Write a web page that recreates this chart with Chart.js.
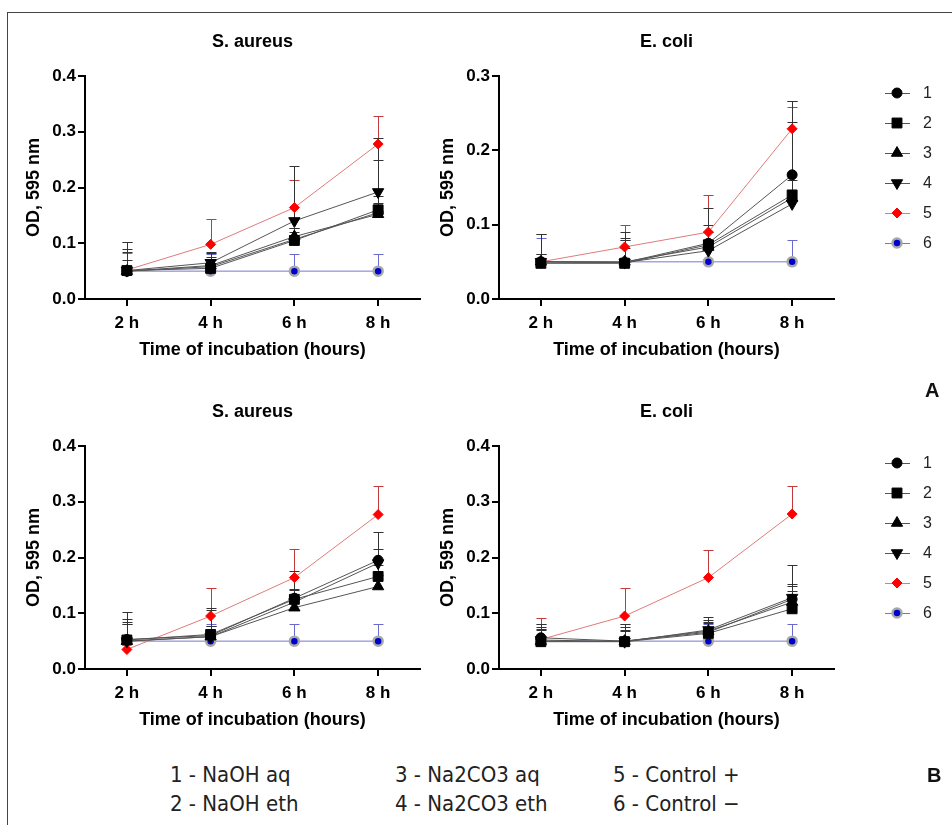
<!DOCTYPE html>
<html><head><meta charset="utf-8">
<script src="https://cdn.jsdelivr.net/npm/chart.js@4/dist/chart.umd.min.js"></script>
<style>
html,body{margin:0;padding:0;background:#fff;}
body{width:952px;height:825px;position:relative;overflow:hidden;font-family:Arial,'Liberation Sans',sans-serif;}
.frameT{position:absolute;left:7px;top:12px;width:945px;height:0;border-top:1px solid #444;}
.frameL{position:absolute;left:7px;top:12px;width:0;height:813px;border-left:1px solid #444;}
.panel{position:absolute;}
.tag{position:absolute;font:bold 20px Arial,'Liberation Sans',sans-serif;color:#111;}
.legend{position:absolute;left:880px;}
.legend .item{height:30px;display:flex;align-items:center;}
.legend canvas{width:34px;height:20px;display:block;}
.legend span{font:16px Arial,'Liberation Sans',sans-serif;margin-left:9px;color:#222;}
.note{position:absolute;font:22px 'Liberation Sans Narrow','DejaVu Sans Condensed',sans-serif;color:#222;line-height:24px;white-space:nowrap;}
</style>
</head><body>
<div class="frameT"></div><div class="frameL"></div>
<canvas id="c1" class="panel" style="left:8px;top:14px" width="420" height="350"></canvas>
<canvas id="c2" class="panel" style="left:422px;top:14px" width="420" height="350"></canvas>
<canvas id="c3" class="panel" style="left:8px;top:384px" width="420" height="350"></canvas>
<canvas id="c4" class="panel" style="left:422px;top:384px" width="420" height="350"></canvas>
<div class="legend" id="legA" style="top:78px"></div>
<div class="legend" id="legB" style="top:448px"></div>
<div class="tag" style="left:925px;top:379px">A</div>
<div class="tag" style="left:927px;top:764px">B</div>
<div class="note" style="left:170px;top:763px">1 - NaOH aq</div>
<div class="note" style="left:170px;top:792px">2 - NaOH eth</div>
<div class="note" style="left:395px;top:763px">3 - Na2CO3 aq</div>
<div class="note" style="left:395px;top:792px">4 - Na2CO3 eth</div>
<div class="note" style="left:613px;top:763px">5 - Control +</div>
<div class="note" style="left:613px;top:792px">6 - Control &minus;</div>
<script>
// ---------- categories & labels ----------
const hours = ['2 h', '4 h', '6 h', '8 h'];
const seriesNames = ['1', '2', '3', '4', '5', '6'];
const panelTitles = ['S. aureus', 'E. coli', 'S. aureus', 'E. coli'];
const yMaxA_sa = 0.4, yMaxA_ec = 0.3, yMaxB_sa = 0.4, yMaxB_ec = 0.4;

// ---------- Panel A, S. aureus: means ----------
const saA_1 = [0.050, 0.058, 0.107, 0.155];
const saA_2 = [0.051, 0.055, 0.105, 0.160];
const saA_3 = [0.050, 0.060, 0.112, 0.152];
const saA_4 = [0.051, 0.065, 0.140, 0.192];
const saA_5 = [0.052, 0.098, 0.164, 0.278];
const saA_6 = [0.050, 0.050, 0.050, 0.050];
// errors (upper SD)
const saA_1e = [0.040, 0.024, 0.020, 0.030];
const saA_2e = [0.019, 0.015, 0.015, 0.090];
const saA_3e = [0.035, 0.015, 0.015, 0.020];
const saA_4e = [0.051, 0.020, 0.099, 0.097];
const saA_5e = [0.050, 0.045, 0.050, 0.050];
const saA_6e = [0.032, 0.030, 0.030, 0.030];

// ---------- Panel A, E. coli ----------
const ecA_1 = [0.050, 0.049, 0.075, 0.167];
const ecA_2 = [0.048, 0.048, 0.073, 0.140];
const ecA_3 = [0.050, 0.050, 0.070, 0.136];
const ecA_4 = [0.050, 0.049, 0.065, 0.128];
const ecA_5 = [0.050, 0.070, 0.090, 0.229];
const ecA_6 = [0.050, 0.050, 0.050, 0.050];
const ecA_1e = [0.038, 0.041, 0.048, 0.100];
const ecA_2e = [0.040, 0.034, 0.027, 0.020];
const ecA_3e = [0.010, 0.030, 0.020, 0.130];
const ecA_4e = [0.010, 0.020, 0.015, 0.110];
const ecA_5e = [0.005, 0.030, 0.050, 0.029];
const ecA_6e = [0.032, 0.030, 0.030, 0.030];

// ---------- Panel B, S. aureus ----------
const saB_1 = [0.053, 0.060, 0.127, 0.195];
const saB_2 = [0.052, 0.062, 0.125, 0.166];
const saB_3 = [0.050, 0.058, 0.110, 0.148];
const saB_4 = [0.050, 0.058, 0.120, 0.190];
const saB_5 = [0.035, 0.095, 0.164, 0.277];
const saB_6 = [0.050, 0.050, 0.050, 0.050];
const saB_1e = [0.049, 0.050, 0.048, 0.051];
const saB_2e = [0.038, 0.043, 0.018, 0.020];
const saB_3e = [0.035, 0.020, 0.020, 0.020];
const saB_4e = [0.030, 0.020, 0.022, 0.025];
const saB_5e = [0.010, 0.050, 0.051, 0.051];
const saB_6e = [0.030, 0.030, 0.030, 0.030];

// ---------- Panel B, E. coli ----------
const ecB_1 = [0.056, 0.050, 0.066, 0.125];
const ecB_2 = [0.049, 0.049, 0.064, 0.108];
const ecB_3 = [0.050, 0.050, 0.068, 0.120];
const ecB_4 = [0.052, 0.049, 0.070, 0.128];
const ecB_5 = [0.053, 0.095, 0.164, 0.278];
const ecB_6 = [0.050, 0.050, 0.050, 0.050];
const ecB_1e = [0.024, 0.030, 0.027, 0.062];
const ecB_2e = [0.026, 0.021, 0.020, 0.032];
const ecB_3e = [0.020, 0.025, 0.015, 0.028];
const ecB_4e = [0.020, 0.020, 0.018, 0.025];
const ecB_5e = [0.039, 0.050, 0.050, 0.050];
const ecB_6e = [0.030, 0.030, 0.030, 0.030];

// ---------- styles ----------
const styles = [
  {pointStyle:'circle', radius:5, rotation:0, fill:'#000', border:'#000', bw:1, line:'#555', err:'#333'},
  {pointStyle:'rect', radius:7, rotation:0, fill:'#000', border:'#000', bw:1, line:'#555', err:'#333'},
  {pointStyle:'triangle', radius:6.5, rotation:0, fill:'#000', border:'#000', bw:1, line:'#555', err:'#333'},
  {pointStyle:'triangle', radius:6.5, rotation:180, fill:'#000', border:'#000', bw:1, line:'#555', err:'#333'},
  {pointStyle:'rectRot', radius:5, rotation:0, fill:'#ff0000', border:'#ff0000', bw:1, line:'#e07a7a', err:'#c23a3a'},
  {pointStyle:'circle', radius:4.5, rotation:0, fill:'#0000cc', border:'#a8a8a8', bw:2.5, line:'#7676d4', err:'#6b6bcf'}
];

const errorBars = {
  id: 'errorBars',
  beforeDatasetsDraw(chart) {
    const {ctx} = chart, x = chart.scales.x, y = chart.scales.y;
    for (let i = chart.data.datasets.length - 1; i >= 0; i--) {
      const ds = chart.data.datasets[i];
      if (!ds.errors) continue;
      ctx.save();
      ctx.strokeStyle = ds.errorColor;
      ctx.lineWidth = 1;
      ds.data.forEach((v, j) => {
        const px = Math.round(x.getPixelForValue(j)) + 0.5;
        const y0 = y.getPixelForValue(v);
        const y1 = Math.round(y.getPixelForValue(v + ds.errors[j])) + 0.5;
        ctx.beginPath();
        ctx.moveTo(px, y0); ctx.lineTo(px, y1);
        ctx.moveTo(px - 5, y1); ctx.lineTo(px + 5, y1);
        ctx.stroke();
      });
      ctx.restore();
    }
  }
};

const F = 'Arial, "Liberation Sans", sans-serif';

function makePanel(id, title, yMax, means, errs) {
  new Chart(document.getElementById(id), {
    type: 'line',
    data: {
      labels: hours,
      datasets: means.map((d, i) => ({
        label: seriesNames[i], data: d, errors: errs[i], errorColor: styles[i].err,
        borderColor: styles[i].line, borderWidth: 1, backgroundColor: styles[i].fill,
        pointStyle: styles[i].pointStyle, pointRadius: styles[i].radius, pointRotation: styles[i].rotation,
        pointBackgroundColor: styles[i].fill, pointBorderColor: styles[i].border, pointBorderWidth: styles[i].bw,
        tension: 0, fill: false
      }))
    },
    options: {
      responsive: false, animation: false, devicePixelRatio: 1,
      layout: {padding: {left: 0, right: 7, top: 0, bottom: 0}},
      plugins: {
        legend: {display: false}, tooltip: {enabled: false},
        title: {display: true, text: title, fullSize: false, color: '#000',
          font: {family: F, size: 18, weight: 'bold'}, padding: {top: 17.2, bottom: 23.2}}
      },
      scales: {
        x: {
          type: 'category', offset: true,
          grid: {display: true, drawOnChartArea: false, drawTicks: true, tickLength: 7, color: '#000', lineWidth: 2},
          border: {color: '#000', width: 2},
          ticks: {font: {family: F, size: 17, weight: 'bold'}, color: '#000', padding: 7, maxRotation: 0},
          title: {display: true, text: 'Time of incubation (hours)', color: '#000',
            font: {family: F, size: 18, weight: 'bold'}, padding: {top: 0, bottom: 3}},
          afterFit(s) { s.height = 65; }
        },
        y: {
          min: 0, max: yMax,
          grid: {display: true, drawOnChartArea: false, drawTicks: true, tickLength: 7, color: '#000', lineWidth: 2},
          border: {color: '#000', width: 2},
          ticks: {stepSize: 0.1, font: {family: F, size: 17, weight: 'bold'}, color: '#000', padding: 2,
            callback: v => Number(v).toFixed(1)},
          title: {display: true, text: 'OD, 595 nm', color: '#000',
            font: {family: F, size: 18, weight: 'bold'}, padding: {top: 15, bottom: 0}},
          afterFit(s) { s.width = 77; }
        }
      }
    },
    plugins: [errorBars]
  });
}

makePanel('c1', panelTitles[0], yMaxA_sa, [saA_1, saA_2, saA_3, saA_4, saA_5, saA_6], [saA_1e, saA_2e, saA_3e, saA_4e, saA_5e, saA_6e]);
makePanel('c2', panelTitles[1], yMaxA_ec, [ecA_1, ecA_2, ecA_3, ecA_4, ecA_5, ecA_6], [ecA_1e, ecA_2e, ecA_3e, ecA_4e, ecA_5e, ecA_6e]);
makePanel('c3', panelTitles[2], yMaxB_sa, [saB_1, saB_2, saB_3, saB_4, saB_5, saB_6], [saB_1e, saB_2e, saB_3e, saB_4e, saB_5e, saB_6e]);
makePanel('c4', panelTitles[3], yMaxB_ec, [ecB_1, ecB_2, ecB_3, ecB_4, ecB_5, ecB_6], [ecB_1e, ecB_2e, ecB_3e, ecB_4e, ecB_5e, ecB_6e]);

// ---------- legends ----------
function buildLegend(elId) {
  const el = document.getElementById(elId);
  seriesNames.forEach((name, i) => {
    const item = document.createElement('div'); item.className = 'item';
    const cv = document.createElement('canvas'); cv.width = 34; cv.height = 20;
    const ctx = cv.getContext('2d');
    const st = styles[i];
    ctx.strokeStyle = st.line; ctx.lineWidth = 1;
    ctx.beginPath(); ctx.moveTo(5, 10.5); ctx.lineTo(30, 10.5); ctx.stroke();
    ctx.fillStyle = st.fill; ctx.strokeStyle = st.border; ctx.lineWidth = st.bw;
    Chart.helpers.drawPoint(ctx, {pointStyle: st.pointStyle, radius: st.radius, rotation: st.rotation, borderWidth: st.bw}, 17, 10);
    const sp = document.createElement('span'); sp.textContent = name;
    item.appendChild(cv); item.appendChild(sp); el.appendChild(item);
  });
}
buildLegend('legA');
buildLegend('legB');
</script>
</body></html>
